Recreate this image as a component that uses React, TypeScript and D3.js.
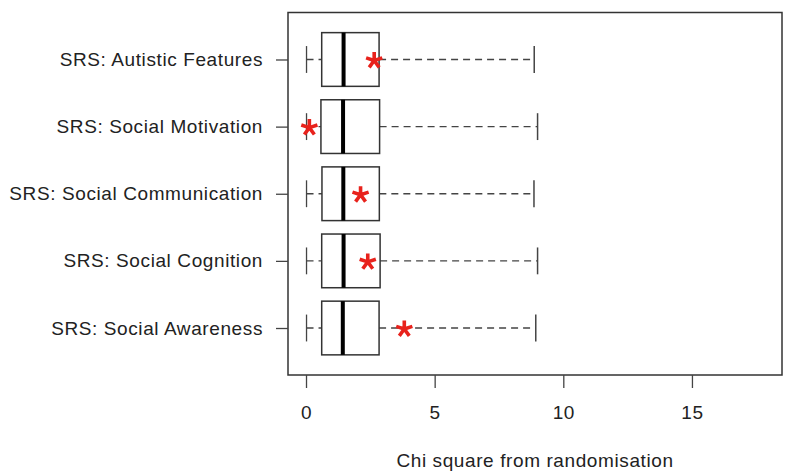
import React, { useEffect, useRef } from 'react';
import * as d3 from 'd3';

const categories = [
  'SRS: Autistic Features',
  'SRS: Social Motivation',
  'SRS: Social Communication',
  'SRS: Social Cognition',
  'SRS: Social Awareness',
];
const whiskerLow = [0.02, 0.02, 0.02, 0.02, 0.02];
const q1 = [0.61, 0.58, 0.62, 0.61, 0.61];
const medians = [1.46, 1.44, 1.45, 1.46, 1.43];
const q3 = [2.84, 2.86, 2.85, 2.88, 2.84];
const whiskerHigh = [8.87, 9.0, 8.86, 9.0, 8.93];
const observed = [2.65, 0.13, 2.12, 2.4, 3.82];
const xTicks = [0, 5, 10, 15];

const App = () => {
  const ref = useRef(null);

  useEffect(() => {
    const svg = d3.select(ref.current);
    svg.selectAll('*').remove();

    const plot = { left: 288, right: 782, top: 12.5, bottom: 375 };
    const font = 'Liberation Sans, Arial, sans-serif';
    const fs = 19;
    const ls = 0.6;
    const n = categories.length;

    const x = d3.scaleLinear().domain([-0.7, 18.5]).range([plot.left, plot.right]);
    // R style positions: 1 at bottom, n at top
    const y = d3.scaleLinear().domain([0.3, n + 0.7]).range([plot.bottom, plot.top]);
    const pos = (i) => y(n - i);
    const boxH = y(0) - y(0.8);

    const rows = categories.map((c, i) => ({
      c, i, lo: whiskerLow[i], q1: q1[i], med: medians[i], q3: q3[i], hi: whiskerHigh[i], obs: observed[i],
    }));

    const g = svg.append('g');

    // whiskers (dashed)
    g.selectAll('.wl').data(rows).join('line')
      .attr('x1', d => x(d.lo)).attr('x2', d => x(d.q1))
      .attr('y1', d => pos(d.i)).attr('y2', d => pos(d.i))
      .attr('stroke', '#444').attr('stroke-width', 1.3).attr('stroke-dasharray', '7,5');
    g.selectAll('.wh').data(rows).join('line')
      .attr('x1', d => x(d.q3)).attr('x2', d => x(d.hi))
      .attr('y1', d => pos(d.i)).attr('y2', d => pos(d.i))
      .attr('stroke', '#444').attr('stroke-width', 1.3).attr('stroke-dasharray', '7,5');

    // staples
    g.selectAll('.sl').data(rows).join('line')
      .attr('x1', d => x(d.lo)).attr('x2', d => x(d.lo))
      .attr('y1', d => pos(d.i) - boxH / 4).attr('y2', d => pos(d.i) + boxH / 4)
      .attr('stroke', '#444').attr('stroke-width', 1.3);
    g.selectAll('.sh').data(rows).join('line')
      .attr('x1', d => x(d.hi)).attr('x2', d => x(d.hi))
      .attr('y1', d => pos(d.i) - boxH / 4).attr('y2', d => pos(d.i) + boxH / 4)
      .attr('stroke', '#444').attr('stroke-width', 1.5);

    // boxes
    g.selectAll('.box').data(rows).join('rect')
      .attr('x', d => x(d.q1)).attr('width', d => x(d.q3) - x(d.q1))
      .attr('y', d => pos(d.i) - boxH / 2).attr('height', boxH)
      .attr('fill', 'white').attr('stroke', '#333').attr('stroke-width', 1.5);

    // medians
    g.selectAll('.med').data(rows).join('line')
      .attr('x1', d => x(d.med)).attr('x2', d => x(d.med))
      .attr('y1', d => pos(d.i) - boxH / 2).attr('y2', d => pos(d.i) + boxH / 2)
      .attr('stroke', '#000').attr('stroke-width', 4);

    // observed value asterisks (5 arms)
    const arm = 8.5;
    const angles = [-90, -18, 54, 126, 198].map(a => (a * Math.PI) / 180);
    const star = angles.map(a => `M0,0L${(arm * Math.cos(a)).toFixed(2)},${(arm * Math.sin(a)).toFixed(2)}`).join('');
    g.selectAll('.obs').data(rows).join('path')
      .attr('transform', d => `translate(${x(d.obs)},${pos(d.i) + 1})`)
      .attr('d', star)
      .attr('fill', 'none').attr('stroke', '#e8221c').attr('stroke-width', 3.6);

    // frame
    svg.append('rect')
      .attr('x', plot.left).attr('y', plot.top)
      .attr('width', plot.right - plot.left).attr('height', plot.bottom - plot.top)
      .attr('fill', 'none').attr('stroke', '#333').attr('stroke-width', 1.5);

    // x axis
    const xAxis = svg.append('g').attr('transform', `translate(0,${plot.bottom})`)
      .call(d3.axisBottom(x).tickValues(xTicks).tickSize(13).tickPadding(18).tickSizeOuter(0));
    xAxis.select('.domain').remove();
    xAxis.selectAll('line').attr('stroke', '#444').attr('stroke-width', 1.3);
    xAxis.selectAll('text').attr('font-family', font).attr('font-size', fs)
      .attr('letter-spacing', ls).attr('fill', '#222');

    // y axis
    const yAxis = svg.append('g').attr('transform', `translate(${plot.left},0)`)
      .call(d3.axisLeft(y).tickValues(d3.range(1, n + 1)).tickFormat(v => categories[n - v])
        .tickSize(12).tickPadding(13).tickSizeOuter(0));
    yAxis.select('.domain').remove();
    yAxis.selectAll('line').attr('stroke', '#444').attr('stroke-width', 1.3);
    yAxis.selectAll('text').attr('font-family', font).attr('font-size', fs)
      .attr('letter-spacing', ls).attr('fill', '#222');

    // x label
    svg.append('text')
      .attr('x', (plot.left + plot.right) / 2).attr('y', 467)
      .attr('text-anchor', 'middle')
      .attr('font-family', font).attr('font-size', fs)
      .attr('letter-spacing', ls).attr('fill', '#222')
      .text('Chi square from randomisation');
  }, []);

  return (
    <svg ref={ref} width={796} height={476}
      style={{ position: 'absolute', left: 0, top: 0, background: 'white' }}></svg>
  );
};

export default App;
